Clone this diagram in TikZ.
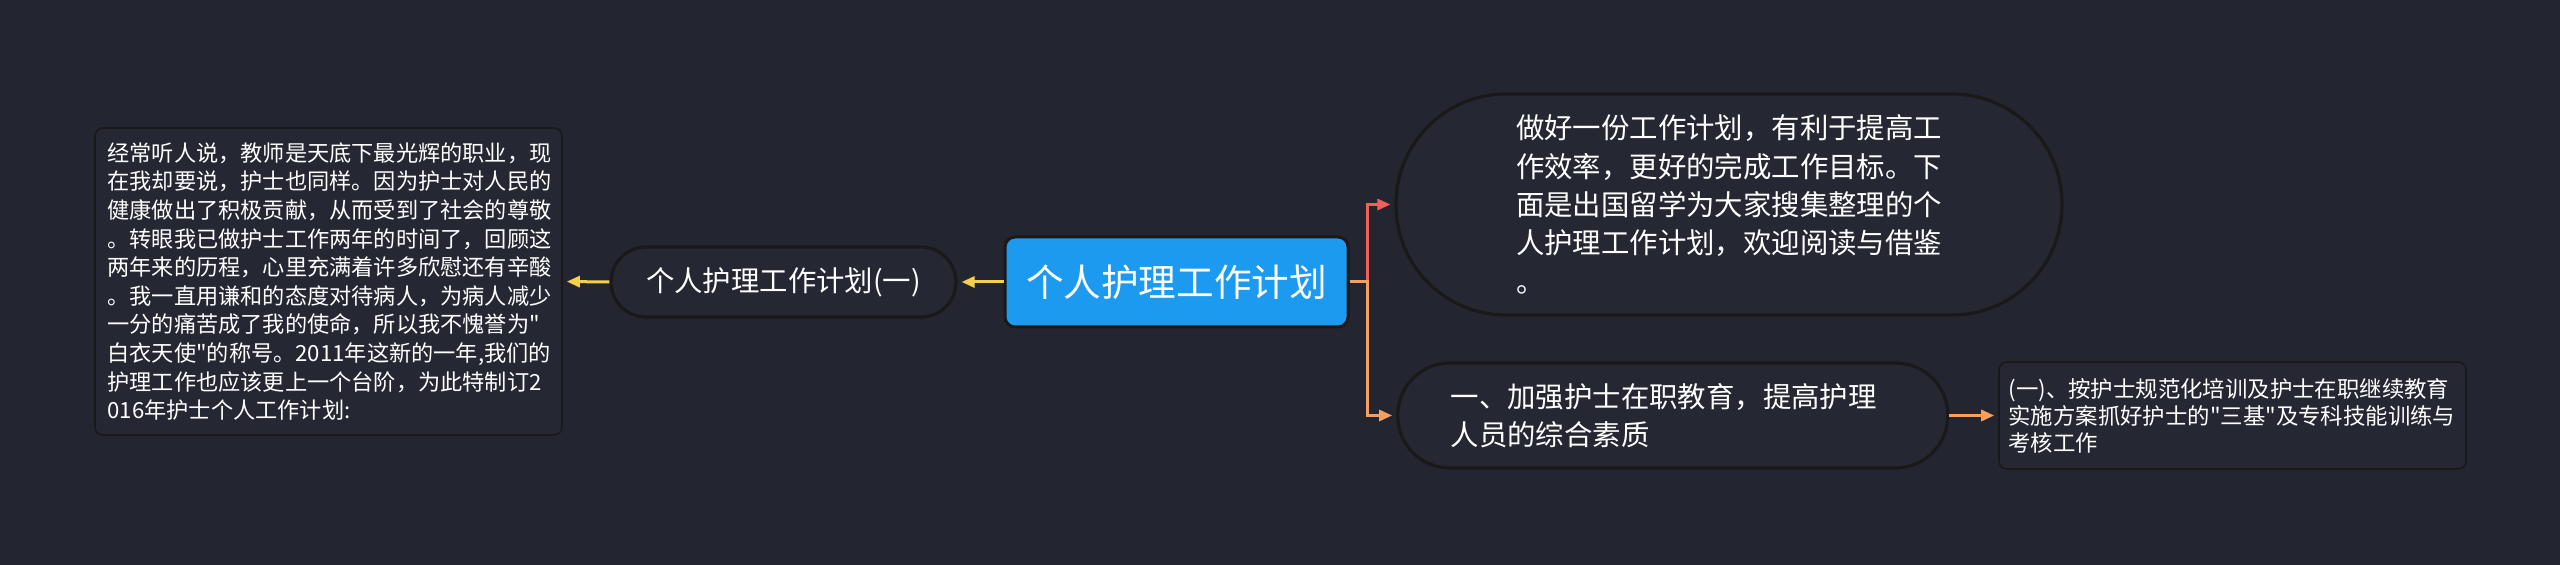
\documentclass[tikz,border=0pt]{standalone}
\usepackage{fontspec}
\setmainfont{Noto Sans CJK SC}[Ligatures=TeXOff]
\usetikzlibrary{arrows.meta}
\definecolor{bgnavy}{RGB}{35,38,49}
\definecolor{boxnavy}{RGB}{37,40,51}
\definecolor{rootblue}{RGB}{27,154,239}
\definecolor{lineyellow}{RGB}{246,208,74}
\definecolor{linered}{RGB}{240,96,90}
\definecolor{lineorange}{RGB}{245,160,95}

\begin{document}
\begin{tikzpicture}[x=0.5pt,y=-0.5pt,
  topic/.style={draw=black!90,line width=1.5pt,fill=rootblue,rounded corners=5pt,text=white,
    font=\fontsize{18.8}{23}\selectfont,minimum width=171.5pt,minimum height=45pt,inner sep=0pt},
  pill/.style={draw=black!90,line width=1.6pt,fill=boxnavy,text=white,inner sep=0pt,align=left},
  leaf/.style={draw=black!90,line width=0.8pt,fill=boxnavy,rounded corners=4pt,text=white,inner sep=0pt,align=left},
  body/.style={font=\fontsize{14.2}{19.2}\selectfont},
  small/.style={font=\fontsize{11.1}{14.3}\selectfont},
  link/.style={line width=1.5pt,-{Triangle[length=6.5pt,width=5.5pt]},shorten >=2pt}]

\fill[bgnavy] (0,0) rectangle (2560,565);

\node[topic] (root) at (1176.5,282) {个人护理工作计划};

\node[pill,body,rounded corners=17.5pt,minimum width=172.5pt,minimum height=35pt] (plan1) at (783.5,282) {个人护理工作计划(一)};
\node[leaf,small,text width=221pt,minimum width=233.5pt,minimum height=153.5pt] (intro) at (328.5,281.5)
  {经常听人说，教师是天底下最光辉的职业，现\\在我却要说，护士也同样。因为护士对人民的\\健康做出了积极贡献，从而受到了社会的尊敬\\。转眼我已做护士工作两年的时间了，回顾这\\两年来的历程，心里充满着许多欣慰还有辛酸\\。我一直用谦和的态度对待病人，为病人减少\\一分的痛苦成了我的使命，所以我不愧誉为"\\白衣天使"的称号。2011年这新的一年,我们的\\护理工作也应该更上一个台阶，为此特制订2\\016年护士个人工作计划:};

\node[pill,body,rounded corners=55pt,text width=213pt,minimum width=333pt,minimum height=110.5pt] (summary) at (1729,204.5)
  {做好一份工作计划，有利于提高工\\作效率，更好的完成工作目标。下\\面是出国留学为大家搜集整理的个\\人护理工作计划，欢迎阅读与借鉴\\。};
\node[pill,body,rounded corners=26pt,text width=222pt,minimum width=275pt,minimum height=52.5pt] (edu) at (1672.75,415.5)
  {一、加强护士在职教育，提高护理\\人员的综合素质};
\node[leaf,small,font=\fontsize{11.2}{13.5}\selectfont,text width=224pt,minimum width=233.5pt,minimum height=53.5pt] (train) at (2232.5,415.5)
  {(一)、按护士规范化培训及护士在职继续教育\\实施方案抓好护士的"三基"及专科技能训练与\\考核工作};

\draw[link,lineyellow] (root.west) -- (plan1.east);
\draw[link,lineyellow] (plan1.west) -- (intro.east);
\draw[link,linered] (root.east) -- ++(18,0) |- (summary.west);
\draw[link,lineorange] (root.east) -- ++(18,0) |- (edu.west);
\draw[link,lineorange] (edu.east) -- (train.west);
\end{tikzpicture}
\end{document}
